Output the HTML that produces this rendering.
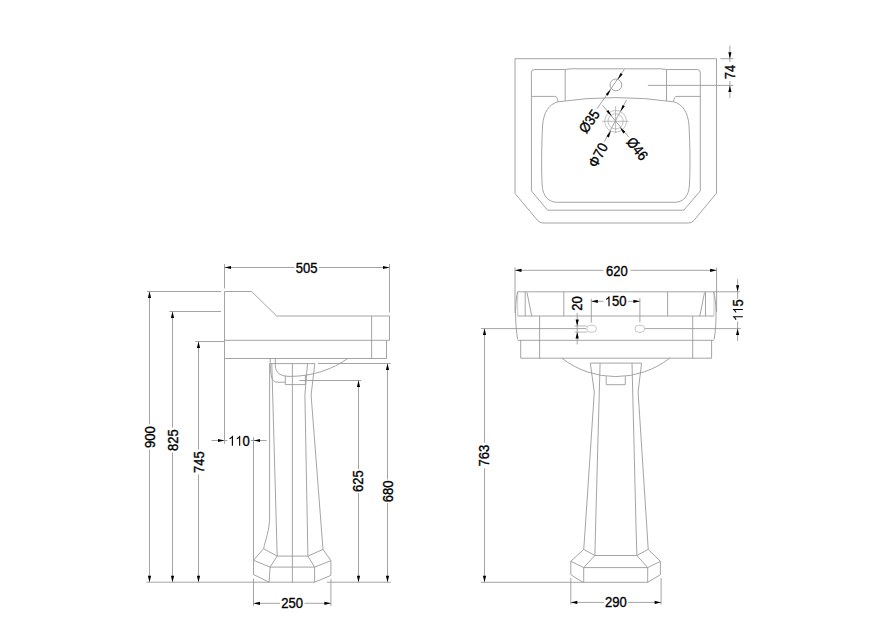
<!DOCTYPE html>
<html><head><meta charset="utf-8"><style>
html,body{margin:0;padding:0;background:#fff;}
svg{display:block;}
path,circle,rect{fill:none;stroke:#9a9a9a;stroke-width:0.9;}
polygon.a{fill:#000;stroke:none;}
path.g{fill:#000;stroke:#000;}
text{font-family:"Liberation Sans",sans-serif;fill:#000;stroke:#000;stroke-width:0.35;text-anchor:middle;}
</style></head><body>
<svg width="891" height="628" viewBox="0 0 891 628">

<path d="M224.50,264.00 L224.50,288.50"/>
<path d="M389.50,264.00 L389.50,312.50"/>
<path d="M224.50,267.50 L294.50,267.50"/>
<path d="M319.00,267.50 L389.50,267.50"/>
<polygon class="a" points="224.50,267.50 231.00,265.90 231.00,269.10"/>
<polygon class="a" points="389.50,267.50 383.00,269.10 383.00,265.90"/>
<g transform="translate(306.60,267.50) rotate(0) scale(0.9,1)"><text x="0" y="5.15" font-size="14.5">505</text></g>
<path d="M147.00,291.50 L221.00,291.50"/>
<path d="M149.50,291.50 L149.50,424.30"/>
<path d="M149.50,449.60 L149.50,582.20"/>
<polygon class="a" points="149.50,291.50 151.10,298.00 147.90,298.00"/>
<polygon class="a" points="149.50,582.20 147.90,575.70 151.10,575.70"/>
<g transform="translate(150.00,437.00) rotate(-90) scale(0.9,1)"><text x="0" y="5.15" font-size="14.5">900</text></g>
<path d="M169.40,311.50 L221.00,311.50"/>
<path d="M172.50,311.50 L172.50,427.50"/>
<path d="M172.50,452.50 L172.50,582.20"/>
<polygon class="a" points="172.50,311.50 174.10,318.00 170.90,318.00"/>
<polygon class="a" points="172.50,582.20 170.90,575.70 174.10,575.70"/>
<g transform="translate(172.80,440.10) rotate(-90) scale(0.9,1)"><text x="0" y="5.15" font-size="14.5">825</text></g>
<path d="M195.40,341.50 L224.50,341.50"/>
<path d="M198.50,341.50 L198.50,449.50"/>
<path d="M198.50,474.50 L198.50,582.20"/>
<polygon class="a" points="198.50,341.50 200.10,348.00 196.90,348.00"/>
<polygon class="a" points="198.50,582.20 196.90,575.70 200.10,575.70"/>
<g transform="translate(198.50,462.00) rotate(-90) scale(0.9,1)"><text x="0" y="5.15" font-size="14.5">745</text></g>
<path d="M211.50,440.50 L227.50,440.50"/>
<polygon class="a" points="224.50,440.50 218.00,442.10 218.00,438.90"/>
<path d="M250.80,440.50 L266.60,440.50"/>
<polygon class="a" points="253.50,440.50 260.00,438.90 260.00,442.10"/>
<path d="M224.50,291.50 L224.50,443.70"/>
<path d="M253.50,437.20 L253.50,574.50"/>
<g transform="translate(239.00,440.50) rotate(0) scale(0.9,1)"><text x="0" y="5.15" font-size="14.5">&#8199;&#8199;0</text><path class="g" transform="translate(-12.096,5.15) scale(0.007080,-0.007080)" stroke-width="49.4" d="M763,0 L583,0 L583,1102 Q518,1043 424,990 Q330,936 223,898 L223,1065 Q417,1152 515,1238 Q613,1325 648,1409 L763,1409 Z"/><path class="g" transform="translate(-4.032,5.15) scale(0.007080,-0.007080)" stroke-width="49.4" d="M763,0 L583,0 L583,1102 Q518,1043 424,990 Q330,936 223,898 L223,1065 Q417,1152 515,1238 Q613,1325 648,1409 L763,1409 Z"/></g>
<path d="M299.30,380.50 L361.20,380.50"/>
<path d="M358.50,380.50 L358.50,469.00"/>
<path d="M358.50,493.00 L358.50,582.20"/>
<polygon class="a" points="358.50,380.50 360.10,387.00 356.90,387.00"/>
<polygon class="a" points="358.50,582.20 356.90,575.70 360.10,575.70"/>
<g transform="translate(358.20,481.00) rotate(-90) scale(0.9,1)"><text x="0" y="5.15" font-size="14.5">625</text></g>
<path d="M318.00,363.50 L390.70,363.50"/>
<path d="M387.50,363.50 L387.50,479.50"/>
<path d="M387.50,503.00 L387.50,582.20"/>
<polygon class="a" points="387.50,363.50 389.10,370.00 385.90,370.00"/>
<polygon class="a" points="387.50,582.20 385.90,575.70 389.10,575.70"/>
<g transform="translate(387.50,491.30) rotate(-90) scale(0.9,1)"><text x="0" y="5.15" font-size="14.5">680</text></g>
<path d="M253.50,578.50 L253.50,606.00"/>
<path d="M330.90,578.90 L330.90,606.00"/>
<path d="M253.50,603.30 L280.00,603.30"/>
<path d="M304.50,603.30 L330.90,603.30"/>
<polygon class="a" points="253.50,603.30 260.00,601.70 260.00,604.90"/>
<polygon class="a" points="330.90,603.30 324.40,604.90 324.40,601.70"/>
<g transform="translate(292.20,603.30) rotate(0) scale(0.9,1)"><text x="0" y="5.15" font-size="14.5">250</text></g>
<path d="M146.60,582.20 L269.10,582.20"/>
<path d="M326.90,582.20 L390.70,582.20"/>
<path d="M269.10,582.20 L314.60,582.20"/>
<path d="M224.50,291.50 L251.60,291.50 L276.70,316.00 L389.50,316.00 L389.50,340.30"/>
<path d="M224.50,340.30 L389.50,340.30"/>
<path d="M371.60,316.00 L371.60,358.50"/>
<path d="M386.50,340.30 L386.50,358.50"/>
<path d="M224.50,358.50 L386.50,358.50"/>
<path d="M270.20,358.50 L270.20,363.60"/>
<path d="M269.80,363.60 L314.80,363.60"/>
<path d="M269.6,363.6 V517 C269.6,530 265.5,540 263.6,548.7"/>
<path d="M270.2,363.8 C270.8,378 272,382.2 278,382.2 H285.3"/>
<path d="M275.3,358.5 V366 C276,373 280,376.3 290,376.4 C313,376.4 333,369 347.7,358.5"/>
<path d="M285.30,375.80 L285.30,384.60 L305.40,384.60 L305.40,375.40"/>
<path d="M292.40,363.60 L292.40,582.20"/>
<path d="M271.80,363.60 L277.20,556.10"/>
<path d="M307.50,363.60 L304.90,395.00 L307.90,556.10"/>
<path d="M314.80,363.60 L311.10,395.00 L323.00,549.40"/>
<path d="M253.50,560.30 L263.60,548.70 L277.20,556.10 L307.90,556.10 L323.00,549.40 L330.90,560.70"/>
<path d="M253.50,560.30 L270.10,567.10 L314.60,567.10 L330.90,560.70"/>
<path d="M277.20,556.10 L270.10,567.10"/>
<path d="M307.90,556.10 L314.60,567.10"/>
<path d="M253.50,574.50 L269.10,582.20"/>
<path d="M314.60,582.20 L330.90,575.40"/>
<path d="M270.10,567.10 L269.10,582.20"/>
<path d="M314.60,567.10 L314.60,582.20"/>
<path d="M330.90,560.70 L330.90,575.40"/>
<path d="M515.00,267.30 L515.00,313.00"/>
<path d="M716.60,267.60 L716.60,312.00"/>
<path d="M517.70,291.80 L517.70,316.00" style="stroke:#c4c4c4"/>
<path d="M714.00,291.80 L714.00,316.00" style="stroke:#c4c4c4"/>
<path d="M515.00,270.30 L603.50,270.30"/>
<path d="M630.40,270.30 L716.60,270.30"/>
<polygon class="a" points="515.00,270.30 521.50,268.70 521.50,271.90"/>
<polygon class="a" points="716.60,270.30 710.10,271.90 710.10,268.70"/>
<g transform="translate(617.00,270.40) rotate(0) scale(0.9,1)"><text x="0" y="5.15" font-size="14.5">620</text></g>
<path d="M713.90,291.80 L740.00,291.80"/>
<path d="M644.80,328.60 L740.80,328.60"/>
<path d="M737.60,279.20 L737.60,299.00"/>
<path d="M737.60,321.50 L737.60,341.20"/>
<polygon class="a" points="737.60,291.80 736.00,285.30 739.20,285.30"/>
<polygon class="a" points="737.60,328.60 739.20,335.10 736.00,335.10"/>
<g transform="translate(737.70,310.20) rotate(-90) scale(0.9,1)"><text x="0" y="5.15" font-size="14.5">&#8199;&#8199;5</text><path class="g" transform="translate(-12.096,5.15) scale(0.007080,-0.007080)" stroke-width="49.4" d="M763,0 L583,0 L583,1102 Q518,1043 424,990 Q330,936 223,898 L223,1065 Q417,1152 515,1238 Q613,1325 648,1409 L763,1409 Z"/><path class="g" transform="translate(-4.032,5.15) scale(0.007080,-0.007080)" stroke-width="49.4" d="M763,0 L583,0 L583,1102 Q518,1043 424,990 Q330,936 223,898 L223,1065 Q417,1152 515,1238 Q613,1325 648,1409 L763,1409 Z"/></g>
<path d="M574.60,326.00 L586.90,326.00" style="stroke:#b0b0b0"/>
<path d="M574.60,332.10 L586.90,332.10" style="stroke:#b0b0b0"/>
<path d="M577.20,312.80 L577.20,344.40"/>
<polygon class="a" points="577.20,326.00 575.60,319.50 578.80,319.50"/>
<polygon class="a" points="577.20,332.10 578.80,338.60 575.60,338.60"/>
<g transform="translate(577.20,303.50) rotate(-90) scale(0.9,1)"><text x="0" y="5.15" font-size="14.5">20</text></g>
<path d="M591.30,298.80 L591.30,322.50"/>
<path d="M639.90,298.10 L639.90,322.30"/>
<path d="M591.30,301.30 L603.50,301.30"/>
<path d="M628.00,301.30 L639.90,301.30"/>
<polygon class="a" points="591.30,301.30 597.80,299.70 597.80,302.90"/>
<polygon class="a" points="639.90,301.30 633.40,302.90 633.40,299.70"/>
<g transform="translate(615.60,301.20) rotate(0) scale(0.9,1)"><text x="0" y="5.15" font-size="14.5">&#8199;50</text><path class="g" transform="translate(-12.096,5.15) scale(0.007080,-0.007080)" stroke-width="49.4" d="M763,0 L583,0 L583,1102 Q518,1043 424,990 Q330,936 223,898 L223,1065 Q417,1152 515,1238 Q613,1325 648,1409 L763,1409 Z"/></g>
<path d="M480.90,328.60 L586.00,328.60"/>
<path d="M484.50,328.60 L484.50,442.70"/>
<path d="M484.50,468.20 L484.50,582.30"/>
<polygon class="a" points="484.50,328.60 486.10,335.10 482.90,335.10"/>
<polygon class="a" points="484.50,582.30 482.90,575.80 486.10,575.80"/>
<g transform="translate(484.30,455.50) rotate(-90) scale(0.9,1)"><text x="0" y="5.15" font-size="14.5">763</text></g>
<path d="M480.90,582.30 L582.90,582.30"/>
<path d="M570.80,578.00 L570.80,604.60"/>
<path d="M661.10,578.00 L661.10,604.60"/>
<path d="M570.80,602.40 L604.00,602.40"/>
<path d="M628.00,602.40 L661.10,602.40"/>
<polygon class="a" points="570.80,602.40 577.30,600.80 577.30,604.00"/>
<polygon class="a" points="661.10,602.40 654.60,604.00 654.60,600.80"/>
<g transform="translate(616.00,602.30) rotate(0) scale(0.9,1)"><text x="0" y="5.15" font-size="14.5">290</text></g>
<path d="M517.70,291.80 L713.90,291.80"/>
<path d="M517.7,291.8 C515.2,300 514.6,320 517.6,339.4"/>
<path d="M713.6,292 C716.2,300 717.2,320 714.2,339.4"/>
<path d="M517.70,316.00 L713.90,316.00"/>
<path d="M517.70,340.30 L713.90,340.30"/>
<path d="M520.70,340.30 L520.70,358.20 L711.60,358.20 L711.60,340.30"/>
<path d="M539.60,316.00 L539.60,358.20"/>
<path d="M692.70,316.00 L692.70,358.20"/>
<path d="M525.20,291.80 L525.20,316.00"/>
<path d="M527.00,292.50 L531.70,316.00"/>
<path d="M563.80,291.80 L563.80,316.00"/>
<path d="M667.60,291.80 L667.60,316.00"/>
<path d="M704.50,292.50 L699.80,316.00"/>
<path d="M705.50,291.80 L705.50,316.00"/>
<rect x="586.8" y="325.2" width="9.6" height="7" rx="3.5" stroke="#c0c0c0" style="stroke:#c0c0c0"/>
<rect x="635.0" y="325.3" width="9.6" height="7" rx="3.5" style="stroke:#c0c0c0"/>
<path d="M561.9,358.2 A88.1,88.1 0 0 0 669.7,358.2"/>
<path d="M590.30,363.10 L641.60,363.10"/>
<path d="M590.30,363.10 L594.30,392.00 L585.10,530.00 L583.70,549.40"/>
<path d="M600.10,363.10 L595.50,530.00 L594.90,555.50"/>
<path d="M632.00,363.10 L636.10,530.00 L636.90,555.50"/>
<path d="M641.60,363.10 L638.10,392.00 L647.00,530.00 L648.20,549.40"/>
<path d="M606.20,376.20 L606.20,384.70 L625.30,384.70 L625.30,376.20"/>
<path d="M570.80,561.30 L583.70,549.40 L594.90,555.50 L636.90,555.50 L648.20,549.40 L660.40,561.30"/>
<path d="M570.80,561.30 L583.70,567.60 L647.70,567.60 L660.40,561.30"/>
<path d="M594.90,555.50 L583.70,567.60"/>
<path d="M636.90,555.50 L647.70,567.60"/>
<path d="M570.80,561.30 L570.80,574.70"/>
<path d="M660.40,561.30 L660.40,574.70"/>
<path d="M583.70,567.60 L583.70,582.30"/>
<path d="M647.70,567.60 L647.70,582.30"/>
<path d="M570.80,574.70 L582.90,582.30 L647.70,582.30 L660.40,574.70"/>
<path d="M515,58.7 H716.5 V193.2 L694,220.3 Q691.8,223 688.5,223 H543 Q539.8,223 537.5,220.3 L515,193.5 Z"/>
<path d="M531.4,190.9 V72.5 Q531.4,69.5 534.5,69.5 H565.2 L570.5,68.8 H661 L666.5,69.5 H697.2 Q700.3,69.5 700.3,72.5 V190.9 L683.8,210.2 H547.5 Z"/>
<path d="M565.20,69.50 L565.20,100.90"/>
<path d="M666.50,69.50 L666.50,100.90"/>
<path d="M531.4,96.4 H554.6 Q557.9,96.4 557.9,101.8"/>
<path d="M700.3,96.4 H677 Q673.7,96.4 673.7,101.8"/>
<path d="M557.9,101.8 Q615.8,93.4 673.7,101.8"/>
<path d="M673.7,101.8 C682.6,104.3 687.8,112 689,125 C690.2,150 690.2,170 689.5,184 C689,197 683,202.3 674,202.3 H557.5 C549,202.3 542.5,197 542.1,184 C541.4,170 541.4,150 542.6,125 C543.8,112 549,104.3 557.9,101.8"/>
<path d="M720.40,58.70 L733.40,58.70"/>
<path d="M647.90,85.40 L733.40,85.40"/>
<path d="M729.90,45.60 L729.90,62.00"/>
<path d="M729.90,81.00 L729.90,98.10"/>
<polygon class="a" points="729.90,58.70 728.30,52.20 731.50,52.20"/>
<polygon class="a" points="729.90,85.40 731.50,91.90 728.30,91.90"/>
<g transform="translate(729.90,71.90) rotate(-90) scale(0.9,1)"><text x="0" y="5.15" font-size="14.5">74</text></g>
<circle cx="615.9" cy="84.9" r="5.9"/>
<circle cx="615.6" cy="121.3" r="10.9" style="stroke:#b4b4b4;stroke-width:0.8"/>
<circle cx="615.6" cy="121.3" r="7.6" style="stroke:#b4b4b4;stroke-width:0.8"/>
<path d="M602.20,121.30 L628.70,121.30" style="stroke:#b4b4b4"/>
<path d="M615.60,106.20 L615.60,133.10" style="stroke:#b4b4b4"/>
<path d="M624.40,69.30 L597.10,108.70"/>
<polygon class="a" points="617.60,79.50 620.53,73.01 622.66,74.49"/>
<polygon class="a" points="610.80,89.20 607.87,95.69 605.74,94.21"/>
<path d="M626.50,100.10 L604.30,141.70"/>
<polygon class="a" points="620.40,111.80 622.55,105.01 624.84,106.24"/>
<polygon class="a" points="611.00,130.60 608.85,137.39 606.56,136.16"/>
<path d="M602.50,105.20 L628.70,137.00"/>
<polygon class="a" points="611.80,116.20 606.36,111.61 608.37,109.96"/>
<polygon class="a" points="619.90,127.20 625.34,131.79 623.33,133.44"/>
<g transform="translate(589.00,121.20) rotate(-55) scale(0.9,1)"><text x="0" y="5.15" font-size="14.5">&#216;35</text></g>
<g transform="translate(597.90,155.00) rotate(-62) scale(0.9,1)"><text x="0" y="5.15" font-size="14.5">&#934;70</text></g>
<g transform="translate(637.40,148.70) rotate(51) scale(0.9,1)"><text x="0" y="5.15" font-size="14.5">&#216;46</text></g>
</svg>
</body></html>
